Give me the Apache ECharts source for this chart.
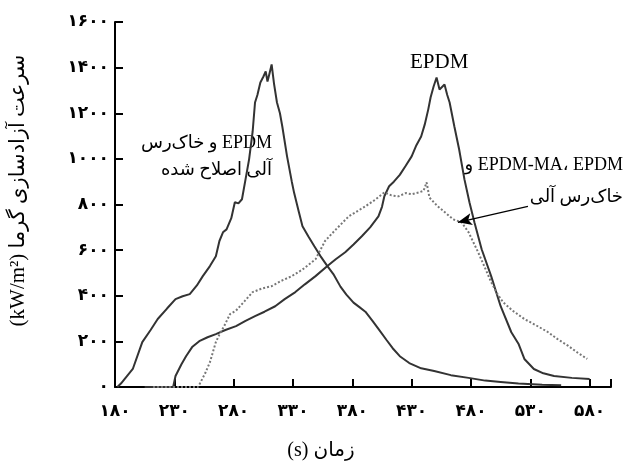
<!DOCTYPE html>
<html>
<head>
<meta charset="utf-8">
<script src="https://cdn.jsdelivr.net/npm/echarts@6/dist/echarts.min.js"></script>
<style>
  html, body { margin: 0; padding: 0; background: #fff; }
  #main { width: 627px; height: 466px; }
</style>
</head>
<body>
<div id="main" dir="rtl"></div>
<script>
// EPDM + modified organic clay (left peak)
var timeA = [182, 185, 195, 203, 210, 216, 224, 231, 237, 243, 249, 254, 260, 265, 268, 271, 274, 278, 281, 284, 287, 290, 293, 296, 298, 300, 302.5, 305, 307, 308.5, 310, 312, 314, 316.5, 319, 321, 325, 329, 331, 335, 338, 343, 348, 353, 359, 364, 370, 375, 381, 386, 391, 397, 402, 409, 414, 420, 428, 438, 449, 463, 478, 492, 505, 520, 540, 556];
var rateA = [0, 15, 79, 197, 250, 298, 345, 385, 398, 407, 445, 486, 530, 573, 640, 678, 691, 740, 810, 805, 823, 910, 998, 1120, 1247, 1280, 1335, 1360, 1383, 1339, 1370, 1414, 1330, 1247, 1200, 1142, 1011, 900, 850, 766, 705, 660, 617, 575, 530, 495, 440, 405, 370, 350, 330, 290, 255, 205, 170, 135, 105, 82, 70, 52, 40, 28, 22, 15, 10, 8];

// EPDM (right peak)
var timeB = [205, 229, 231, 236, 240, 245, 251, 258, 265, 273, 282, 290, 298, 306, 315, 323, 332, 340, 349, 359, 366, 374, 381, 388, 395, 402, 405, 407, 411, 415, 420, 425, 430, 434, 438, 441, 444, 446, 448.5, 451, 453.5, 455, 457.7, 460, 462, 466, 470, 474.5, 478.7, 483, 489, 497, 505, 514, 520, 525, 533, 541, 550, 565, 580];
var rateB = [0, 0, 48, 100, 136, 175, 201, 218, 232, 250, 267, 290, 311, 330, 354, 385, 416, 450, 486, 530, 560, 591, 625, 661, 700, 748, 790, 836, 880, 900, 930, 970, 1011, 1060, 1098, 1150, 1217, 1270, 1317, 1357, 1304, 1310, 1326, 1280, 1247, 1142, 1042, 910, 810, 720, 604, 486, 354, 240, 190, 123, 79, 60, 48, 40, 35];

// EPDM, EPDM-MA + organic clay (dotted)
var timeC = [212, 250, 252, 256, 260, 265, 268, 272, 277, 282, 289, 296, 304, 312, 320, 329, 338, 349, 357, 366, 377, 384, 391, 399, 407, 413, 419, 425, 430, 436, 440, 442.6, 445, 452, 458, 465, 472, 478, 486, 492, 497, 502, 507, 515, 525, 535, 545, 553, 562, 570, 578];
var rateC = [0, 0, 20, 60, 109, 197, 230, 267, 320, 335, 375, 416, 432, 442, 465, 486, 515, 560, 640, 690, 748, 770, 792, 820, 853, 840, 836, 850, 845, 853, 860, 897, 830, 792, 766, 735, 722, 678, 591, 520, 460, 410, 372, 335, 298, 270, 240, 210, 180, 150, 123];

// arrow of the dotted-curve note, [from, to] in data units
var arrowFrom = [528, 792];
var arrowTo = [469, 722];

var fa = ['۰', '۱', '۲', '۳', '۴', '۵', '۶', '۷', '۸', '۹'];
function toFa(n) {
  return String(n).replace(/\d/g, function (d) { return fa[d]; });
}
function pairs(t, v) {
  return t.map(function (x, i) { return [x, v[i]]; });
}

var serif = "'Liberation Serif', 'DejaVu Sans', serif";

var myChart = echarts.init(document.getElementById('main'));
var option = {
  animation: false,
  grid: { left: 112, right: 16, top: 22, bottom: 78 },
  xAxis: {
    type: 'value',
    min: 180,
    max: 598,
    interval: 50,
    name: 'زمان (s)',
    nameLocation: 'middle',
    nameGap: 54,
    nameTextStyle: { fontFamily: serif, fontSize: 20, color: '#000', padding: [0, 84, 0, 0] },
    axisLine: { lineStyle: { color: '#000', width: 2 } },
    axisTick: { inside: true, length: 8, lineStyle: { color: '#000', width: 2 } },
    axisLabel: {
      margin: 16,
      fontSize: 17,
      fontWeight: 'bold',
      color: '#000',
      fontFamily: "'DejaVu Sans'",
      formatter: function (v) { return (v - 180) % 50 === 0 ? toFa(v) : ''; }
    },
    splitLine: { show: false }
  },
  yAxis: {
    type: 'value',
    min: 0,
    max: 1600,
    interval: 200,
    name: 'سرعت آزادسازی گرما (kW/m²)',
    nameLocation: 'middle',
    nameGap: 86,
    nameTextStyle: { fontFamily: serif, fontSize: 21, color: '#000', padding: [0, 0, 0, 28] },
    axisLine: { show: true, lineStyle: { color: '#000', width: 2 } },
    axisTick: { show: true, inside: true, length: 8, lineStyle: { color: '#000', width: 2 } },
    axisLabel: {
      margin: 6,
      fontSize: 17,
      fontWeight: 'bold',
      color: '#000',
      fontFamily: "'DejaVu Sans'",
      formatter: function (v) { return toFa(v); }
    },
    splitLine: { show: false }
  },
  series: [
    {
      name: 'EPDM و خاک‌رس آلی اصلاح شده',
      type: 'line',
      showSymbol: false,
      lineStyle: { color: '#333', width: 2 },
      data: pairs(timeA, rateA)
    },
    {
      name: 'EPDM',
      type: 'line',
      showSymbol: false,
      lineStyle: { color: '#333', width: 2 },
      data: pairs(timeB, rateB)
    },
    {
      name: 'EPDM، EPDM-MA و خاک‌رس آلی',
      type: 'line',
      showSymbol: false,
      lineStyle: { color: '#777', width: 2, type: 'dotted' },
      data: pairs(timeC, rateC),
      markLine: {
        silent: true,
        symbol: ['none', 'arrow'],
        symbolSize: [9, 14],
        label: { show: false },
        lineStyle: { color: '#000', width: 1.3, type: 'solid' },
        data: [[{ coord: arrowFrom }, { coord: arrowTo }]]
      }
    }
  ],
  graphic: [
    { type: 'text', left: 410, top: 52, style: { text: 'EPDM', font: "21px 'Liberation Serif', serif", fill: '#000' } },
    { type: 'text', right: 355, top: 134, style: { text: 'EPDM و خاک‌رس', font: "18px " + serif, fill: '#000', textAlign: 'right' } },
    { type: 'text', right: 355, top: 161, style: { text: 'آلی اصلاح شده', font: "18px " + serif, fill: '#000', textAlign: 'right' } },
    { type: 'text', right: 4, top: 156, style: { text: 'EPDM-MA، EPDM و', font: "18px " + serif, fill: '#000', textAlign: 'right' } },
    { type: 'text', right: 4, top: 188, style: { text: 'خاک‌رس آلی', font: "18px " + serif, fill: '#000', textAlign: 'right' } }
  ]
};
myChart.setOption(option);
window.addEventListener('resize', function () {
  myChart.resize();
});
</script>
</body>
</html>
